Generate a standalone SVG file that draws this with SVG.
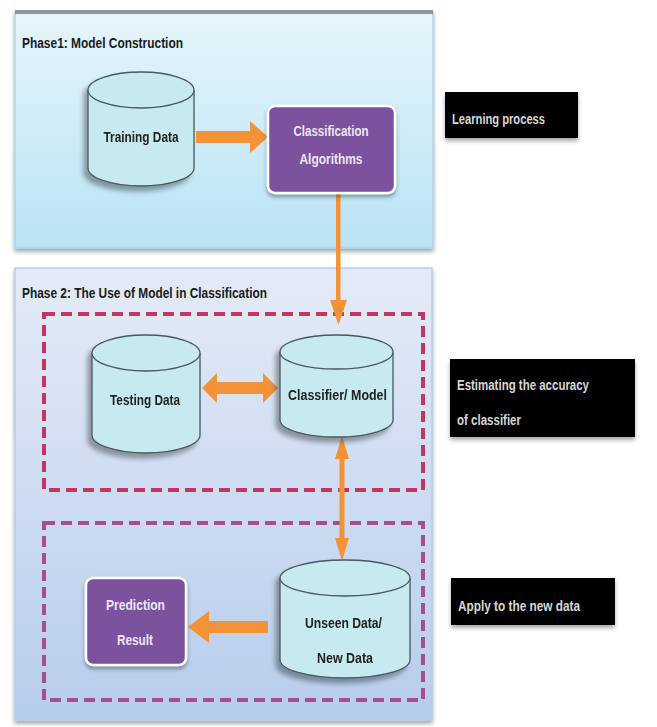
<svg xmlns="http://www.w3.org/2000/svg" width="657" height="727" viewBox="0 0 657 727">
<defs>
<linearGradient id="g1" x1="0" y1="0" x2="0" y2="1"><stop offset="0" stop-color="#e6f5fb"/><stop offset="1" stop-color="#b9e3f5"/></linearGradient>
<linearGradient id="g2" x1="0" y1="0" x2="0" y2="1"><stop offset="0" stop-color="#e4ebf7"/><stop offset="1" stop-color="#b7cdec"/></linearGradient>
<filter id="sh" x="-20%" y="-20%" width="140%" height="140%"><feGaussianBlur in="SourceAlpha" stdDeviation="2.5"/><feOffset dx="-4" dy="5" result="b"/><feComponentTransfer><feFuncA type="linear" slope="0.35"/></feComponentTransfer><feMerge><feMergeNode/><feMergeNode in="SourceGraphic"/></feMerge></filter>
<filter id="sh2" x="-20%" y="-20%" width="140%" height="140%"><feGaussianBlur in="SourceAlpha" stdDeviation="2"/><feOffset dx="0" dy="3"/><feComponentTransfer><feFuncA type="linear" slope="0.35"/></feComponentTransfer><feMerge><feMergeNode/><feMergeNode in="SourceGraphic"/></feMerge></filter>
</defs>
<style>
text{font-family:"Liberation Sans",Arial,sans-serif;font-weight:bold}
.title{font-size:15px;fill:#1a1a1a}
.cyl{fill:#c6eaf0;stroke:#48585e;stroke-width:1.3}
.ct{font-size:15px;fill:#222;text-anchor:middle}
.pbox{fill:#7b519d;stroke:#ffffff;stroke-width:2.5}
.pt{font-size:15px;fill:#ece6f3;text-anchor:middle}
.arr{fill:#f39237}
.lab{fill:#050505}
.lt{font-size:15px;fill:#d8d8d8}
</style>
<rect x="0" y="0" width="657" height="727" fill="#ffffff"/>
<g id="phase1">
<rect x="15" y="12" width="418" height="236" fill="url(#g1)" stroke="#a9d6ea" stroke-width="1.5" filter="url(#sh2)"/>
<rect x="15" y="10" width="418" height="4" fill="#8e9aa3"/>
<text class="title" x="22" y="48" textLength="161" lengthAdjust="spacingAndGlyphs">Phase1:  Model Construction</text>
</g>
<g id="phase2">
<rect x="15" y="268" width="417" height="452" fill="url(#g2)" stroke="#b5cde6" stroke-width="1.5" filter="url(#sh2)"/>
<text class="title" x="22" y="298" textLength="245" lengthAdjust="spacingAndGlyphs">Phase 2:  The Use of  Model in Classification</text>
</g>
<g id="eval-region"><rect x="44" y="314" width="379" height="176" fill="none" stroke="#c3375f" stroke-width="4" stroke-dasharray="11 6"/></g>
<g id="apply-region"><rect x="44" y="523" width="379" height="177" fill="none" stroke="#a64f8e" stroke-width="4" stroke-dasharray="11 6"/></g>
<g id="connectors">
<polygon class="arr" points="196,131 250,131 250,121 268,137 250,153 250,143 196,143"/>
<rect class="arr" x="336" y="194" width="4.5" height="108"/>
<polygon class="arr" points="330,300 347,300 338.5,325"/>
<polygon class="arr" points="202,388 217,373 217,382 263,382 263,373 278,388 263,403 263,394 217,394 217,403"/>
<polygon class="arr" points="342,436 349,459 344.5,459 344.5,538 349,538 342,561 335,538 339.5,538 339.5,459 335,459"/>
<polygon class="arr" points="268,621 209,621 209,611 188,627 209,643 209,633 268,633"/>
</g>
<g id="training-data" filter="url(#sh)">
<path class="cyl" d="M88,90 V168 A53,18 0 0 0 194,168 V90"/>
<ellipse class="cyl" cx="141" cy="90" rx="53" ry="18"/>
<text class="ct" x="141" y="142" textLength="75" lengthAdjust="spacingAndGlyphs">Training Data</text>
</g>
<g id="classification-algorithms">
<rect class="pbox" x="268" y="106" width="127" height="87" rx="7" filter="url(#sh2)"/>
<text class="pt" x="331" y="136" textLength="75" lengthAdjust="spacingAndGlyphs">Classification</text>
<text class="pt" x="331" y="164" textLength="63" lengthAdjust="spacingAndGlyphs">Algorithms</text>
</g>
<g id="testing-data" filter="url(#sh)">
<path class="cyl" d="M92,353 V435 A54,18 0 0 0 200,435 V353"/>
<ellipse class="cyl" cx="146" cy="353" rx="54" ry="18"/>
<text class="ct" x="145" y="405" textLength="70" lengthAdjust="spacingAndGlyphs">Testing Data</text>
</g>
<g id="classifier-model" filter="url(#sh)">
<path class="cyl" d="M280,352 V420 A56.5,17 0 0 0 393,420 V352"/>
<ellipse class="cyl" cx="336.5" cy="352" rx="56.5" ry="17"/>
<text class="ct" x="337.5" y="400" textLength="99" lengthAdjust="spacingAndGlyphs">Classifier/ Model</text>
</g>
<g id="unseen-data" filter="url(#sh)">
<path class="cyl" d="M280,578 V660 A65,18 0 0 0 410,660 V578"/>
<ellipse class="cyl" cx="345" cy="578" rx="65" ry="18"/>
<text class="ct" x="343.5" y="628" textLength="77" lengthAdjust="spacingAndGlyphs">Unseen Data/</text>
<text class="ct" x="345" y="663" textLength="56" lengthAdjust="spacingAndGlyphs">New Data</text>
</g>
<g id="prediction-result">
<rect class="pbox" x="86" y="578" width="100" height="87" rx="7" filter="url(#sh2)"/>
<text class="pt" x="135.5" y="610" textLength="59" lengthAdjust="spacingAndGlyphs">Prediction</text>
<text class="pt" x="135" y="645" textLength="36" lengthAdjust="spacingAndGlyphs">Result</text>
</g>
<g id="label-learning">
<rect class="lab" x="445" y="92" width="133" height="46" filter="url(#sh2)"/>
<text class="lt" x="452" y="124" textLength="93" lengthAdjust="spacingAndGlyphs">Learning process</text>
</g>
<g id="label-estimating">
<rect class="lab" x="450" y="359" width="185" height="78" filter="url(#sh2)"/>
<text class="lt" x="457" y="390" textLength="132" lengthAdjust="spacingAndGlyphs">Estimating the accuracy</text>
<text class="lt" x="457" y="425" textLength="64" lengthAdjust="spacingAndGlyphs">of classifier</text>
</g>
<g id="label-apply">
<rect class="lab" x="451" y="578" width="164" height="47" filter="url(#sh2)"/>
<text class="lt" x="458" y="611" textLength="122" lengthAdjust="spacingAndGlyphs">Apply to the new data</text>
</g>
</svg>
